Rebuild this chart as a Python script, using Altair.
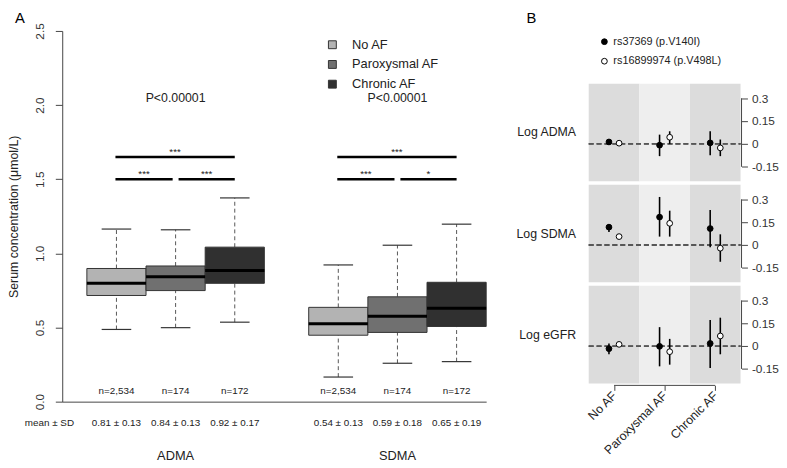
import json
import altair as alt
import pandas as pd

FONT = "Liberation Sans"
TXT = "#222222"
AX = "#444444"

# ---------------- Panel A data ----------------
categories = ["No AF", "Paroxysmal AF", "Chronic AF"]
markers = ["ADMA", "SDMA"]
box_fill = ["#b3b3b3", "#707070", "#303030"]

adma_lower = [0.487, 0.499, 0.536]
adma_q1 = [0.716, 0.749, 0.798]
adma_median = [0.798, 0.842, 0.884]
adma_q3 = [0.898, 0.915, 1.042]
adma_upper = [1.164, 1.159, 1.374]

sdma_lower = [0.166, 0.259, 0.270]
sdma_q1 = [0.448, 0.467, 0.507]
sdma_median = [0.525, 0.576, 0.630]
sdma_q3 = [0.636, 0.707, 0.805]
sdma_upper = [0.922, 1.055, 1.197]

n_labels = ["n=2,534", "n=174", "n=172"]
adma_mean_sd = ["0.81 ± 0.13", "0.84 ± 0.13", "0.92 ± 0.17"]
sdma_mean_sd = ["0.54 ± 0.13", "0.59 ± 0.18", "0.65 ± 0.19"]
p_texts = ["P<0.00001", "P<0.00001"]

sig_marker = [0, 0, 0, 1, 1, 1]
sig_from = [0, 0, 1, 0, 0, 1]
sig_to = [2, 1, 2, 2, 1, 2]
sig_level = [1.65, 1.50, 1.50, 1.65, 1.50, 1.50]
sig_stars = ["***", "***", "***", "***", "***", "*"]

y_ticks_a = [0.0, 0.5, 1.0, 1.5, 2.0, 2.5]

# ---------------- Panel B data ----------------
row_labels = ["Log ADMA", "Log SDMA", "Log eGFR"]
snps = ["rs37369 (p.V140I)", "rs16899974 (p.V498L)"]
b_ticks = [-0.15, 0, 0.15, 0.3]
bg_fill = ["#dcdcdc", "#eeeeee", "#dcdcdc"]

adma_v140i_est = [0.013, -0.008, 0.007]
adma_v140i_lo = [0.004, -0.080, -0.074]
adma_v140i_hi = [0.022, 0.061, 0.083]
adma_v498l_est = [0.005, 0.044, -0.026]
adma_v498l_lo = [-0.003, 0.000, -0.080]
adma_v498l_hi = [0.013, 0.083, 0.029]

sdma_v140i_est = [0.117, 0.183, 0.108]
sdma_v140i_lo = [0.085, 0.055, -0.015]
sdma_v140i_hi = [0.134, 0.315, 0.230]
sdma_v498l_est = [0.055, 0.142, -0.021]
sdma_v498l_lo = [0.045, 0.055, -0.110]
sdma_v498l_hi = [0.065, 0.225, 0.070]

egfr_v140i_est = [-0.017, -0.002, 0.017]
egfr_v140i_lo = [-0.053, -0.133, -0.144]
egfr_v140i_hi = [0.017, 0.124, 0.171]
egfr_v498l_est = [0.011, -0.037, 0.066]
egfr_v498l_lo = [-0.004, -0.122, -0.054]
egfr_v498l_hi = [0.026, 0.047, 0.186]

# ================= Panel A =================
WA, HA = 430, 376
xA = alt.Scale(domain=[1 - 55 / 60, 1 + 375 / 60], nice=False, zero=False)
yA = alt.Scale(domain=[0, 2.5], nice=False, zero=False)
axA = alt.Axis(labels=False, ticks=False, title=None, grid=False, domainColor=AX, domainWidth=1)
ayA = alt.Axis(values=y_ticks_a, format=".1f", labelAngle=270, labelAlign="center",
               labelBaseline="bottom", labelPadding=9, tickSize=7, tickColor=AX,
               domainColor=AX, labelColor="#333333", labelFontSize=12,
               title="Serum concentration (μmol/L)", titleFontSize=12.5,
               titleFontWeight="normal", titleColor=TXT, titlePadding=13, grid=False)


def XA(f):
    return alt.X(f, type="quantitative", scale=xA, axis=axA)


def YA(f):
    return alt.Y(f, type="quantitative", scale=yA, axis=ayA)


def XAd(v):
    return alt.XDatum(v, scale=xA, axis=axA)


def YAd(v):
    return alt.YDatum(v, scale=yA, axis=ayA)


stats = [
    (adma_lower, adma_q1, adma_median, adma_q3, adma_upper, adma_mean_sd),
    (sdma_lower, sdma_q1, sdma_median, sdma_q3, sdma_upper, sdma_mean_sd),
]
recs = []
for g, (lo, q1, md, q3, up, ms) in enumerate(stats):
    for c, cat in enumerate(categories):
        recs.append(dict(marker=markers[g], g=g, c=c, cat=cat, lower=lo[c], q1=q1[c],
                         median=md[c], q3=q3[c], upper=up[c], n=n_labels[c], msd=ms[c]))
box_df = pd.DataFrame(recs)

fillA = alt.Fill("cat:N", scale=alt.Scale(domain=categories, range=box_fill), legend=None)

base = alt.Chart(box_df).transform_calculate(
    pos="1 + datum.c + 3.75 * datum.g"
).transform_calculate(
    left="datum.pos - 0.5", right="datum.pos + 0.5",
    capl="datum.pos - 0.25", capr="datum.pos + 0.25"
)

wh_lo = base.mark_rule(color="#555555", strokeDash=[4, 3], strokeWidth=1).encode(
    x=XA("pos"), y=YA("lower"), y2="q1")
wh_hi = base.mark_rule(color="#555555", strokeDash=[4, 3], strokeWidth=1).encode(
    x=XA("pos"), y=YA("q3"), y2="upper")
cap_lo = base.mark_rule(color="#333333", strokeWidth=1.2).encode(
    x=XA("capl"), x2="capr", y=YA("lower"))
cap_hi = base.mark_rule(color="#333333", strokeWidth=1.2).encode(
    x=XA("capl"), x2="capr", y=YA("upper"))
boxes = base.mark_rect(stroke="#333333", strokeWidth=1).encode(
    x=XA("left"), x2="right", y=YA("q1"), y2="q3", fill=fillA)
medians = base.mark_rule(color="black", strokeWidth=3).encode(
    x=XA("left"), x2="right", y=YA("median"))
n_text = base.mark_text(fontSize=10, color=TXT).encode(
    x=XA("pos"), y=YAd(0.073), text="n:N")
msd_text = base.mark_text(fontSize=10, color=TXT).encode(
    x=XA("pos"), y=YAd(-0.146), text="msd:N")

grp_df = pd.DataFrame({"marker": markers, "g": [0, 1], "p": p_texts})
grp_base = alt.Chart(grp_df).transform_calculate(pos="2 + 3.75 * datum.g")
grp_text = grp_base.mark_text(fontSize=13, color=TXT).encode(
    x=XA("pos"), y=YAd(-0.366), text="marker:N")
p_text = grp_base.mark_text(fontSize=12.5, color=TXT).encode(
    x=XA("pos"), y=YAd(2.048), text="p:N")

sig_df = pd.DataFrame({"g": sig_marker, "c1": sig_from, "c2": sig_to,
                       "level": sig_level, "stars": sig_stars})
sig_base = alt.Chart(sig_df).transform_calculate(
    xs="1 + datum.c1 + 3.75 * datum.g + (datum.c1 == 1 ? 0.05 : -0.017)",
    xe="1 + datum.c2 + 3.75 * datum.g - (datum.c2 == 1 ? 0.05 : 0)",
).transform_calculate(xm="(datum.xs + datum.xe) / 2")
sig_bars = sig_base.mark_rule(color="black", strokeWidth=2.5).encode(
    x=XA("xs"), x2="xe", y=YA("level"))
sig_txt = sig_base.mark_text(fontSize=10, color=TXT, baseline="alphabetic", dy=-2).encode(
    x=XA("xm"), y=YA("level"), text="stars:N")

leg_df = pd.DataFrame({"cat": categories, "c": [0, 1, 2]})
leg_base = alt.Chart(leg_df).transform_calculate(ly="2.407 - 0.133 * datum.c")
leg_sq = leg_base.mark_square(size=64, stroke="#333333", strokeWidth=1, opacity=1).encode(
    x=XAd(4.65), y=YA("ly"), fill=fillA)
leg_tx = leg_base.mark_text(fontSize=13, align="left", color=TXT).encode(
    x=XAd(4.983), y=YA("ly"), text="cat:N")

lab_df = pd.DataFrame({"t": ["A", "mean ± SD"], "lx": [-0.633, -0.133],
                       "ly": [2.5 + 20 / 150.4, -0.146]})
a_lab = alt.Chart(lab_df.iloc[[0]]).mark_text(fontSize=15, baseline="top", color="black").encode(
    x=XA("lx"), y=YA("ly"), text="t:N")
msd_lab = alt.Chart(lab_df.iloc[[1]]).mark_text(fontSize=10, color=TXT).encode(
    x=XA("lx"), y=YA("ly"), text="t:N")

panelA = alt.layer(
    wh_lo, wh_hi, cap_lo, cap_hi, boxes, medians, n_text, msd_text, grp_text, p_text,
    sig_bars, sig_txt, leg_sq, leg_tx, a_lab, msd_lab
).properties(width=WA, height=HA)

# ================= Panel B =================
WB, HB = 154, 99
xB = alt.Scale(domain=[0, 3], nice=False, zero=False)
yB = alt.Scale(domain=[-0.245, 0.395], nice=False, zero=False)
fillSnp = alt.Fill("snp:N", scale=alt.Scale(domain=snps, range=["black", "white"]), legend=None)
colorBg = alt.Color("cat:N", scale=alt.Scale(domain=categories, range=bg_fill), legend=None)
cat_expr = "%s[floor(datum.value)]" % json.dumps(categories)

row_sets = [
    (adma_v140i_est, adma_v140i_lo, adma_v140i_hi, adma_v498l_est, adma_v498l_lo, adma_v498l_hi),
    (sdma_v140i_est, sdma_v140i_lo, sdma_v140i_hi, sdma_v498l_est, sdma_v498l_lo, sdma_v498l_hi),
    (egfr_v140i_est, egfr_v140i_lo, egfr_v140i_hi, egfr_v498l_est, egfr_v498l_lo, egfr_v498l_hi),
]

ayB = alt.Axis(orient="right", values=b_ticks, domain=False, tickSize=6, offset=1,
               tickColor=AX, labelColor="#333333", labelFontSize=12, labelPadding=4,
               labelExpr="'' + datum.value", title=None, grid=False)


def make_row(i, show_x):
    e1, l1, h1, e2, l2, h2 = row_sets[i]
    recs = []
    for c, cat in enumerate(categories):
        recs.append(dict(cat=cat, c=c, snp=snps[0], s=0, est=e1[c], lo=l1[c], hi=h1[c]))
        recs.append(dict(cat=cat, c=c, snp=snps[1], s=1, est=e2[c], lo=l2[c], hi=h2[c]))
    df = pd.DataFrame(recs)
    if show_x:
        axB = alt.Axis(values=[0.5, 1.5, 2.5], labelExpr=cat_expr, labelAngle=315,
                       labelAlign="right", labelBaseline="middle", labelPadding=3,
                       labelOverlap=False, labelBound=False,
                       domain=False, tickSize=5, offset=2, tickColor=AX,
                       labelColor=TXT, labelFontSize=12.5, title=None, grid=False)
    else:
        axB = None

    def XB(f):
        return alt.X(f, type="quantitative", scale=xB, axis=axB)

    def YB(f):
        return alt.Y(f, type="quantitative", scale=yB, axis=ayB)

    bg_df = pd.DataFrame({"cat": categories, "c": [0, 1, 2]})
    bg = alt.Chart(bg_df).transform_calculate(x0="datum.c", x1="datum.c + 1").mark_rect(
        opacity=1).encode(x=XB("x0"), x2="x1", y=alt.value(0), y2=alt.value(HB), color=colorBg)
    zero = alt.Chart(bg_df).mark_rule(color="#555555", strokeDash=[5, 3], strokeWidth=1.3).encode(
        x=alt.XDatum(0, scale=xB, axis=axB), x2=alt.X2Datum(3),
        y=alt.YDatum(0, scale=yB, axis=ayB))
    pbase = alt.Chart(df).transform_calculate(
        xp="datum.c + 0.5 + (datum.s == 0 ? -0.1 : 0.1)")
    bars = pbase.mark_rule(color="black", strokeWidth=1.6).encode(
        x=XB("xp"), y=YB("lo"), y2="hi")
    pts = pbase.mark_point(filled=True, size=34, stroke="black", strokeWidth=1,
                           opacity=1, shape="circle").encode(
        x=XB("xp"), y=YB("est"), fill=fillSnp)
    lab = alt.Chart(pd.DataFrame({"t": [row_labels[i]]})).mark_text(
        fontSize=12.5, align="right", color=TXT).encode(
        x=alt.XDatum(-0.25, scale=xB, axis=axB), y=alt.YDatum(0.075, scale=yB, axis=ayB),
        text="t:N")
    yline = alt.Chart(pd.DataFrame({"t": [0]})).mark_rule(color=AX, strokeWidth=1).encode(
        x=alt.value(WB + 1), y=alt.YDatum(b_ticks[0], scale=yB, axis=ayB),
        y2=alt.Y2Datum(b_ticks[-1]))
    layers = [bg, zero, bars, pts, lab, yline]
    if show_x:
        xline = alt.Chart(pd.DataFrame({"t": [0]})).mark_rule(color=AX, strokeWidth=1).encode(
            x=alt.XDatum(0.5, scale=xB, axis=axB), x2=alt.X2Datum(2.5), y=alt.value(HB + 2))
        layers.append(xline)
    return alt.layer(*layers).properties(width=WB, height=HB)


# legend / label strip above panel B
HL = 49.5
lg_df = pd.DataFrame({"snp": snps, "s": [0, 1]})
yL = alt.Scale(domain=[0, 1], nice=False, zero=False)
lg_base = alt.Chart(lg_df).transform_calculate(ly="0.78 - 0.4 * datum.s")
lg_pts = lg_base.mark_point(filled=True, size=34, stroke="black", strokeWidth=1,
                            opacity=1, shape="circle").encode(
    x=alt.XDatum(0.31, scale=xB, axis=None), y=alt.Y("ly:Q", scale=yL, axis=None), fill=fillSnp)
lg_txt = lg_base.mark_text(fontSize=11, align="left", color=TXT).encode(
    x=alt.XDatum(0.487, scale=xB, axis=None), y=alt.Y("ly:Q", scale=yL, axis=None), text="snp:N")
b_lab = alt.Chart(pd.DataFrame({"t": ["B"]})).mark_text(
    fontSize=15, baseline="top", color="black").encode(
    x=alt.XDatum(-1.13, scale=xB, axis=None),
    y=alt.YDatum(1 + 20 / HL, scale=yL, axis=None), text="t:N")
legendB = alt.layer(lg_pts, lg_txt, b_lab).properties(width=WB, height=HL)

panelB = alt.vconcat(legendB, make_row(0, False), make_row(1, False), make_row(2, True),
                     spacing=3.5, bounds="flush").resolve_scale(fill="independent",
                                                                color="independent")

chart = alt.hconcat(panelA, panelB, spacing=104, bounds="flush").resolve_scale(
    fill="independent", color="independent"
).properties(padding=0).configure(font=FONT).configure_view(strokeWidth=0)

chart.save("out.html", embed_options={"renderer": "svg", "actions": False})
